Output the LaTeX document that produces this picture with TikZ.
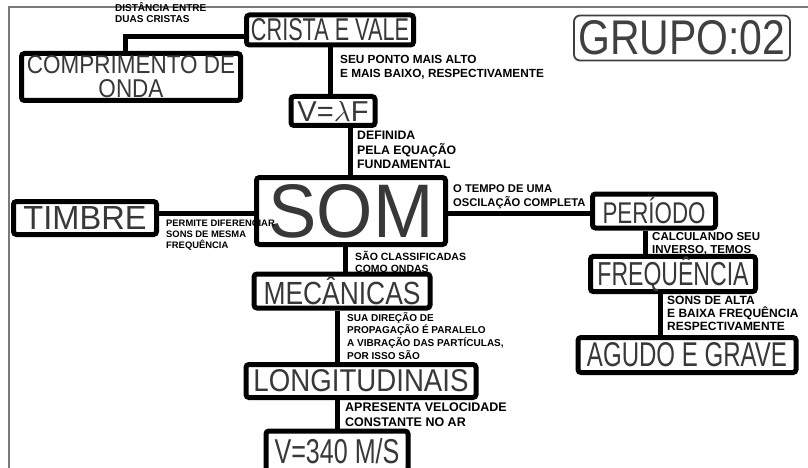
\documentclass[tikz,border=0pt]{standalone}
\usepackage{fontspec}
\usepackage{graphicx}
\setmainfont{Liberation Sans}
% hand-lettered box titles are squeezed to a given width and height
\newcommand\hw[3]{\resizebox{#1pt}{#2pt}{#3}}
\definecolor{boxink}{HTML}{383838}
\definecolor{framegray}{HTML}{7A7A7A}
\tikzset{
  bx/.style={draw=black, line width=5pt, rounded corners=3pt, inner sep=0pt, text=boxink},
  link/.style={line width=5pt, black},
  note/.style={anchor=north west, align=left, inner sep=0pt, text=black},
}
\begin{document}
\begin{tikzpicture}[x=1pt,y=-1pt]
\useasboundingbox (0,0) rectangle (808,468);
\fill[white] (0,0) rectangle (808,468);
\draw[framegray, line width=2pt] (9,470) -- (9,7) -- (810,7);

% ---- boxes ----
\node[bx, minimum width=167pt, minimum height=30pt] (crista) at (330,30) {\hw{158}{22}{CRISTA E VALE}};
\node[bx, minimum width=219pt, minimum height=47pt, align=center, font=\fontsize{10}{24}\selectfont] (comp) at (131,77)
  {\hw{208}{18}{COMPRIMENTO DE}\\\hw{65}{18}{ONDA}};
\node[bx, minimum width=84pt, minimum height=29pt] (vlf) at (333,111) {\hw{71}{20}{V=$\lambda$F}};
\node[bx, minimum width=189pt, minimum height=67pt] (som) at (351,211) {\hw{165}{53}{SOM}};
\node[bx, minimum width=143pt, minimum height=33pt] (timbre) at (85,218) {\hw{123}{23}{TIMBRE}};
\node[bx, minimum width=123pt, minimum height=34pt] (per) at (654,211) {\hw{103}{26}{PERÍODO}};
\node[bx, minimum width=165pt, minimum height=33pt] (freq) at (673,274) {\hw{151}{29}{FREQUÊNCIA}};
\node[bx, minimum width=218pt, minimum height=35pt] (agudo) at (687,355) {\hw{200}{24}{AGUDO E GRAVE}};
\node[bx, minimum width=176pt, minimum height=34pt] (mec) at (342,291) {\hw{157}{28}{MECÂNICAS}};
\node[bx, minimum width=230pt, minimum height=33pt] (long) at (361,381) {\hw{215}{22}{LONGITUDINAIS}};
\node[bx, minimum width=142pt, minimum height=40pt] (vel) at (337,451) {\hw{125}{25}{V=340 M/S}};
\node[draw=black!75, line width=1.8pt, rounded corners=6pt, inner sep=0pt, text=black!75,
      minimum width=216pt, minimum height=45pt] (grupo) at (682,38) {\hw{207}{34}{GRUPO:02}};

% ---- connectors ----
\draw[link] ([yshift=-7pt]crista.west) -| ([xshift=-6pt]comp.north);
\draw[link] (crista.south) -- (crista.south |- vlf.north);
\draw[link] ([xshift=17pt]vlf.south) -- ([xshift=17pt]vlf.south |- som.north);
\draw[link] (timbre.east |- 0,213) -- (som.west |- 0,213);
\draw[link] (som.east |- 0,213) -- (per.west |- 0,213);
\draw[link] ([xshift=-9pt]per.south) -- ([xshift=-9pt]per.south |- freq.north);
\draw[link] ([xshift=-13pt]freq.south) -- ([xshift=-13pt]freq.south |- agudo.north);
\draw[link] ([xshift=-6pt]som.south) -- ([xshift=-6pt]som.south |- mec.north);
\draw[link] ([xshift=-5pt]mec.south) -- ([xshift=-5pt]mec.south |- long.north);
\draw[link] (long.south -| 337,0) -- (vel.north -| 337,0);

% ---- connector notes ----
\node[note, font=\bfseries\fontsize{10}{11}\selectfont] (n1) at (115,2) {DISTÂNCIA ENTRE\\DUAS CRISTAS};
\node[note, font=\bfseries\fontsize{11.8}{14}\selectfont] (n2) at (340,55) {SEU PONTO MAIS ALTO\\E MAIS BAIXO, RESPECTIVAMENTE};
\node[note, font=\bfseries\fontsize{12.3}{14.5}\selectfont] (n3) at (357,131) {DEFINIDA\\PELA EQUAÇÃO\\FUNDAMENTAL};
\node[note, font=\bfseries\fontsize{9.4}{11}\selectfont] (n4) at (166,220) {PERMITE DIFERENCIAR\\SONS DE MESMA\\FREQUÊNCIA};
\node[note, font=\bfseries\fontsize{11.2}{14}\selectfont] (n5) at (453,184) {O TEMPO DE UMA\\OSCILAÇÃO COMPLETA};
\node[note, font=\bfseries\fontsize{11.5}{13}\selectfont] (n6) at (652,232) {CALCULANDO SEU\\INVERSO, TEMOS};
\node[note, font=\bfseries\fontsize{12}{12.8}\selectfont] (n7) at (667,296) {SONS DE ALTA\\E BAIXA FREQUÊNCIA\\RESPECTIVAMENTE};
\node[note, font=\bfseries\fontsize{10.5}{11.5}\selectfont] (n8) at (355,251) {SÃO CLASSIFICADAS\\COMO ONDAS};
\node[note, font=\bfseries\fontsize{10}{12.8}\selectfont] (n9) at (347,312) {SUA DIREÇÃO DE\\PROPAGAÇÃO É PARALELO\\A VIBRAÇÃO DAS PARTÍCULAS,\\POR ISSO SÃO};
\node[note, font=\bfseries\fontsize{12.5}{15}\selectfont] (n10) at (345,403) {APRESENTA VELOCIDADE\\CONSTANTE NO AR};
\end{tikzpicture}
\end{document}
